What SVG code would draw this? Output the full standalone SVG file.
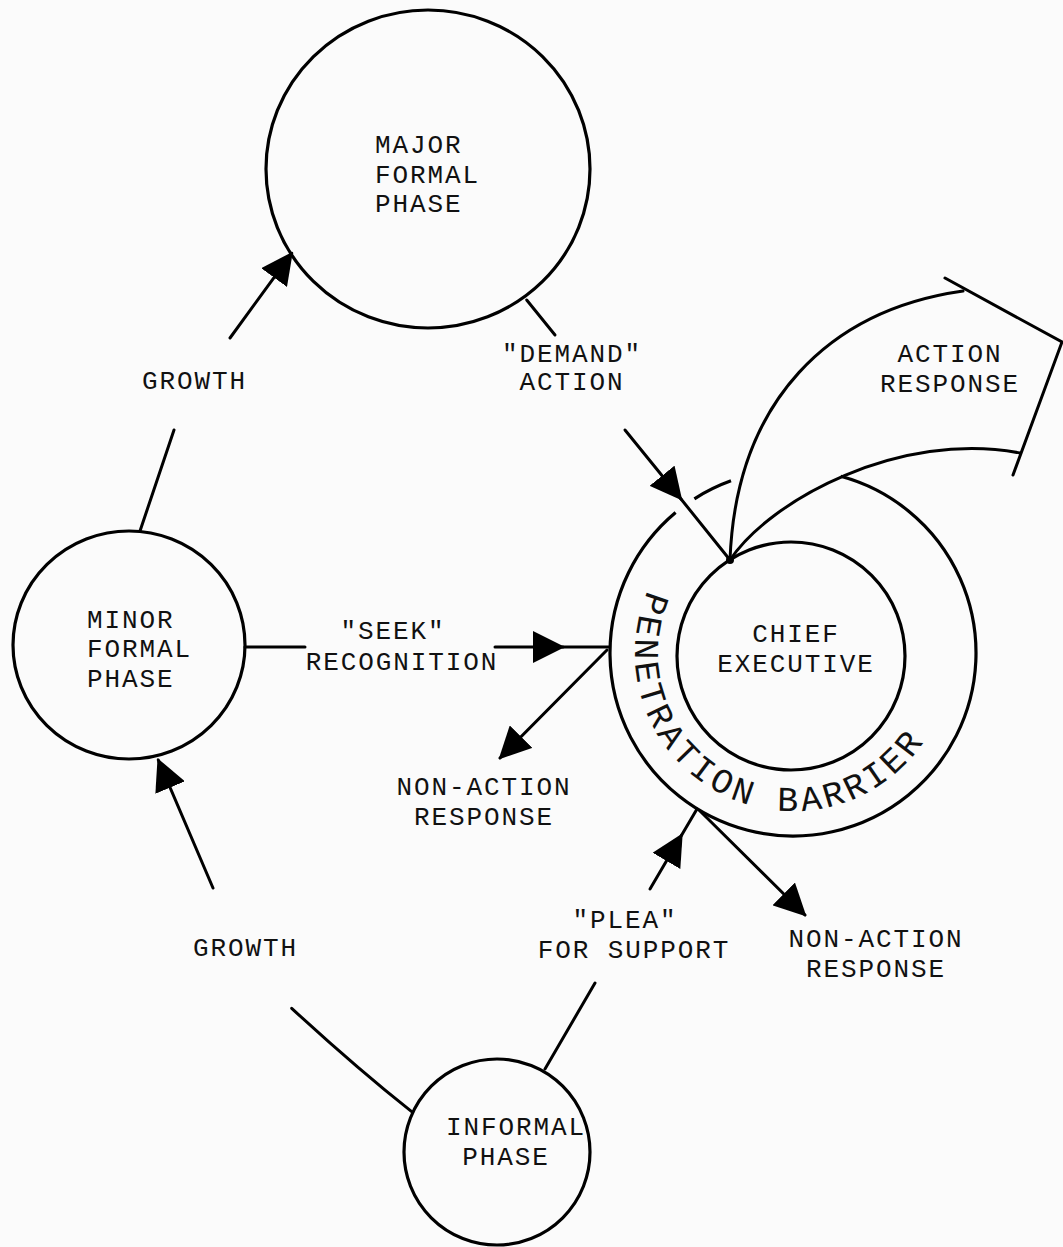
<svg xmlns="http://www.w3.org/2000/svg" width="1063" height="1247" viewBox="0 0 1063 1247">
<defs>
<marker id="ah" markerUnits="userSpaceOnUse" viewBox="0 0 32 32" markerWidth="32" markerHeight="32" refX="30" refY="16" orient="auto"><path d="M0,0 L32,16 L0,32 Z" fill="#000"/></marker>
<path id="barrierPath" d="M656.2,574 A158 158 0 1 0 936.2,719.8" fill="none"/>
</defs>
<style>
.ln{fill:none;stroke:#000;stroke-width:3;stroke-linecap:round}
.nd{fill:none;stroke:#000;stroke-width:3.2}
.t{font-family:"Liberation Mono","Courier New",monospace;font-size:26px;letter-spacing:1.9px;fill:#111}
.m{text-anchor:middle}
.b{font-family:"Liberation Mono","Courier New",monospace;font-size:35px;letter-spacing:3.7px;fill:#111}
</style>
<rect width="1063" height="1247" fill="#fbfbfb"/>

<g id="major-formal-phase">
<ellipse class="nd" cx="428" cy="169" rx="162" ry="159"/>
<text class="t" x="375" y="153">MAJOR</text>
<text class="t" x="375" y="183">FORMAL</text>
<text class="t" x="375" y="212">PHASE</text>
</g>

<g id="minor-formal-phase">
<ellipse class="nd" cx="129" cy="645" rx="116" ry="114"/>
<text class="t" x="87" y="628">MINOR</text>
<text class="t" x="87" y="657">FORMAL</text>
<text class="t" x="87" y="687">PHASE</text>
</g>

<g id="informal-phase">
<circle class="nd" cx="497" cy="1152" r="93"/>
<text class="t m" x="516" y="1135">INFORMAL</text>
<text class="t m" x="506" y="1165">PHASE</text>
</g>

<g id="penetration-barrier">
<path class="nd" d="M840.7,476.3 A183 183 0 1 1 675.6,512.6"/>
<path class="nd" d="M694.4,498.8 A183 183 0 0 1 731.0,480.8"/>
<text class="b"><textPath href="#barrierPath" startOffset="18.5">PENETRATION BARRIER</textPath></text>
</g>

<g id="chief-executive">
<circle class="nd" cx="791" cy="656" r="114"/>
<text class="t m" x="796" y="642">CHIEF</text>
<text class="t m" x="796" y="672">EXECUTIVE</text>
</g>

<g id="connectors">
<path class="ln" d="M140,531 L174,430"/>
<path class="ln" d="M230,338 L291.7,253.3" marker-end="url(#ah)"/>
<path class="ln" d="M526.7,300 L555,335"/>
<path class="ln" d="M625,430 L681,499" marker-end="url(#ah)"/>
<path class="ln" d="M681,499 L730,560"/>
<path class="ln" d="M245,647 L305,647"/>
<path class="ln" d="M495,647 L563,647" marker-end="url(#ah)"/>
<path class="ln" d="M563,647 L609,647"/>
<path class="ln" d="M607,650 L500,758" marker-end="url(#ah)"/>
<path class="ln" d="M213,888 L158.3,760" marker-end="url(#ah)"/>
<path class="ln" d="M291.7,1008.3 Q354.9,1066.6 411.7,1111.7"/>
<path class="ln" d="M545,1069 L595,983"/>
<path class="ln" d="M650,889 L681.7,835" marker-end="url(#ah)"/>
<path class="ln" d="M681.7,835 L697,809"/>
<path class="ln" d="M700,811 L805,915" marker-end="url(#ah)"/>
<path class="ln" d="M730,560 C736,400 830,310 963,291"/>
<path class="ln" d="M730,560 C770,500 900,430 1020,453"/>
<path class="ln" d="M945,278 L1062,342 L1013,475" stroke-linejoin="miter"/>
<circle cx="730" cy="560" r="4" fill="#000"/>
</g>

<g id="labels">
<text class="t" x="142" y="389">GROWTH</text>
<text class="t m" x="572" y="362">"DEMAND"</text>
<text class="t m" x="572" y="390">ACTION</text>
<text class="t m" x="950" y="362">ACTION</text>
<text class="t m" x="950" y="392">RESPONSE</text>
<text class="t m" x="393" y="639">"SEEK"</text>
<text class="t m" x="402" y="670">RECOGNITION</text>
<text class="t m" x="484" y="795">NON-ACTION</text>
<text class="t m" x="484" y="825">RESPONSE</text>
<text class="t" x="193" y="956">GROWTH</text>
<text class="t m" x="625" y="928">"PLEA"</text>
<text class="t m" x="634" y="958">FOR SUPPORT</text>
<text class="t m" x="876" y="947">NON-ACTION</text>
<text class="t m" x="876" y="977">RESPONSE</text>
</g>
</svg>
